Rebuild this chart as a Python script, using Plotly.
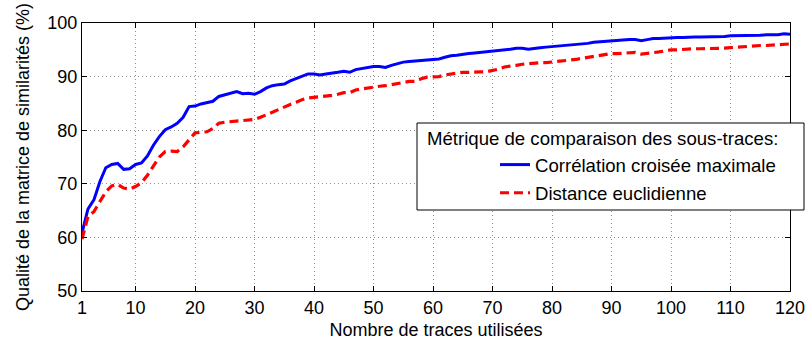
import plotly.graph_objects as go

n_traces = list(range(1, 121))

corr_max = [
    60.8, 65.3, 67.0, 70.4, 73.0, 73.6, 73.8, 72.7, 72.8, 73.6,
    73.9, 75.2, 77.2, 78.8, 80.1, 80.6, 81.3, 82.4, 84.4, 84.5,
    84.9, 85.2, 85.4, 86.3, 86.6, 86.8, 87.2, 86.8, 86.9, 86.7,
    87.2, 87.9, 88.3, 88.5, 88.6, 89.2, 89.6, 90.1, 90.5, 90.5,
    90.3, 90.5, 90.6, 90.8, 91.0, 90.8, 91.3, 91.5, 91.6, 91.9,
    91.9, 91.7, 92.1, 92.4, 92.7, 92.8, 92.9, 93.0, 93.1, 93.2,
    93.3, 93.6, 93.9, 94.0, 94.2, 94.3, 94.4, 94.5, 94.6, 94.7,
    94.8, 95.0, 95.1, 95.3, 95.3, 95.1, 95.3, 95.4, 95.5, 95.6,
    95.6, 95.7, 95.8, 95.9, 96.1, 96.2, 96.4, 96.5, 96.6, 96.7,
    96.8, 96.8, 96.9, 96.9, 96.7, 96.9, 97.1, 97.1, 97.2, 97.3,
    97.3, 97.3, 97.4, 97.4, 97.4, 97.4, 97.4, 97.5, 97.5, 97.6,
    97.6, 97.6, 97.7, 97.7, 97.7, 97.8, 97.8, 97.8, 98.0, 97.9,
]

dist_eucl = [
    59.7, 63.9, 64.8, 66.7, 68.5, 69.6, 69.9, 69.2, 69.0, 69.5,
    70.2, 71.6, 73.2, 75.0, 76.0, 76.1, 76.0, 76.9, 78.2, 79.5,
    79.6, 79.7, 80.3, 81.3, 81.5, 81.6, 81.8, 81.9, 81.9, 82.0,
    82.4, 82.9, 83.4, 83.8, 84.3, 84.8, 85.2, 85.7, 86.0, 86.1,
    86.3, 86.4, 86.5, 86.7, 87.0, 87.0, 87.5, 87.7, 87.9, 88.1,
    88.2, 88.3, 88.5, 88.7, 88.9, 89.1, 89.1, 89.6, 89.9, 90.0,
    90.0, 90.3, 90.5, 90.6, 90.8, 90.8, 90.9, 90.9, 90.9, 91.1,
    91.4, 91.8, 91.9, 92.1, 92.3, 92.4, 92.6, 92.6, 92.6, 92.7,
    92.8, 92.9, 93.1, 93.2, 93.4, 93.6, 93.8, 94.0, 94.1, 94.3,
    94.3, 94.4, 94.4, 94.5, 94.2, 94.3, 94.4, 94.6, 94.8, 95.0,
    95.0, 95.1, 95.1, 95.2, 95.2, 95.2, 95.2, 95.2, 95.3, 95.4,
    95.5, 95.6, 95.7, 95.7, 95.8, 95.8, 95.9, 96.0, 96.1, 96.1,
]

x_ticks = [1, 10, 20, 30, 40, 50, 60, 70, 80, 90, 100, 110, 120]
y_ticks = [50, 60, 70, 80, 90, 100]

series_names = ["Corrélation croisée maximale", "Distance euclidienne"]
legend_title = "Métrique de comparaison des sous-traces:"
x_title = "Nombre de traces utilisées"
y_title = "Qualité de la matrice de similarités (%)"

FONT = "Liberation Sans, Arial, Helvetica, sans-serif"

fig = go.Figure()
fig.add_trace(go.Scatter(
    x=n_traces, y=corr_max, mode="lines", name=series_names[0],
    line=dict(color="#0000ff", width=3), legendgroup="a",
))
fig.add_trace(go.Scatter(
    x=n_traces, y=dist_eucl, mode="lines", name=series_names[1],
    line=dict(color="#ff0000", width=3.2, dash="9px,5px"), legendgroup="b",
))

axis_common = dict(
    showline=True, linecolor="black", linewidth=1, mirror="ticks",
    ticks="inside", ticklen=5, tickcolor="black", tickwidth=1,
    showgrid=True, gridcolor="#909090", gridwidth=1, griddash="1px,3px",
    zeroline=False, tickfont=dict(family=FONT, size=18, color="black"),
)

fig.update_xaxes(
    range=[1, 120], tickvals=x_ticks, ticktext=[str(v) for v in x_ticks],
    title=dict(text=x_title, font=dict(family=FONT, size=18, color="black"), standoff=8),
    **axis_common,
)
fig.update_yaxes(
    range=[50, 100], tickvals=y_ticks, ticktext=[str(v) for v in y_ticks],
    title=dict(text=y_title, font=dict(family=FONT, size=18, color="black"), standoff=13),
    **axis_common,
)

L, R, T, B = 82, 19, 23, 49
W, H = 809, 340
pw, ph = W - L - R, H - T - B

def px_x(p):
    return (p - L) / pw

def px_y(p):
    return (H - B - p) / ph

fig.add_shape(
    type="rect", xref="paper", yref="paper",
    x0=px_x(417), x1=px_x(804), y0=px_y(210), y1=px_y(123),
    line=dict(color="black", width=1), fillcolor="white", layer="above",
)
fig.add_annotation(
    text=legend_title, xref="paper", yref="paper",
    x=px_x(425), y=px_y(138), xanchor="left", yanchor="middle",
    showarrow=False, font=dict(family=FONT, size=18.6, color="black"),
)

fig.update_layout(
    width=W, height=H,
    margin=dict(l=L, r=R, t=T, b=B, autoexpand=False),
    paper_bgcolor="white", plot_bgcolor="white",
    font=dict(family=FONT, size=18, color="black"),
    showlegend=True,
    legend=dict(
        x=px_x(495), y=px_y(146), xanchor="left", yanchor="top",
        bgcolor="rgba(0,0,0,0)", borderwidth=0, tracegroupgap=1,
        font=dict(family=FONT, size=18.6, color="black"),
        itemwidth=30,
    ),
)

fig.write_html(
    "out.html",
    config={"displayModeBar": False},
    post_script="document.body.style.margin='0px';document.body.style.overflow='hidden';",
)
